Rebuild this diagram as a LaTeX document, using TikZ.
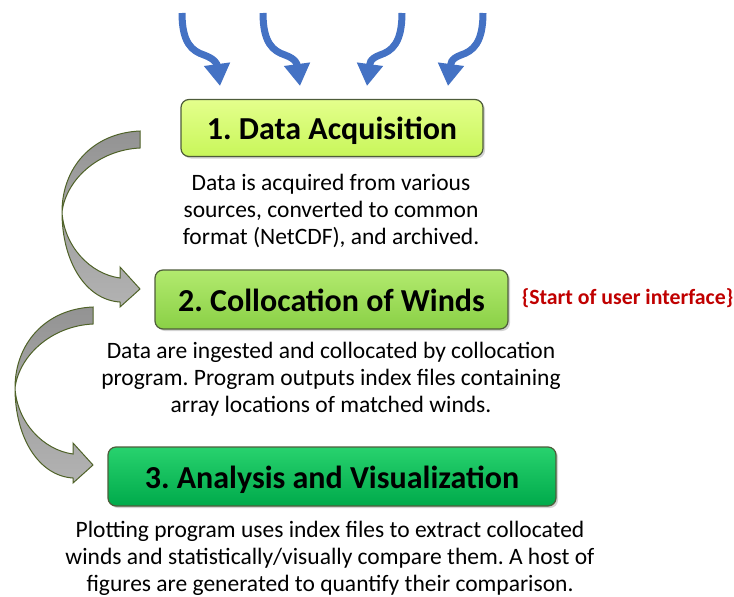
\documentclass[tikz,border=0pt]{standalone}
\usepackage{fontspec}
\setmainfont{Carlito}
\usetikzlibrary{arrows.meta,shadows}
\frenchspacing

\definecolor{boxline}{RGB}{78,92,58}
\definecolor{acqtop}{RGB}{228,255,140}
\definecolor{acqbot}{RGB}{200,246,90}
\definecolor{coltop}{RGB}{178,234,110}
\definecolor{colbot}{RGB}{138,208,70}
\definecolor{anatop}{RGB}{40,210,110}
\definecolor{anabot}{RGB}{0,170,75}
\definecolor{inblue}{RGB}{68,114,196}
\definecolor{uired}{RGB}{192,0,0}
\definecolor{bendline}{RGB}{79,98,40}

\tikzset{
	stagebox/.style={draw=boxline, line width=1.2pt, rounded corners=8pt,
		drop shadow={shadow xshift=2pt, shadow yshift=-2pt, opacity=0.35},
		font=\bfseries\fontsize{32}{38}\selectfont, inner sep=0pt,
		text height=27pt, text depth=4pt},
	notetext/.style={align=center, font=\fontsize{23.5}{27}\selectfont},
	inarrow/.style={draw=inblue, line width=7pt, -{Triangle[width=25pt,length=22pt]}},
	backband/.style={draw=bendline, line width=1pt, top color=gray!85, bottom color=gray!70},
	frontband/.style={draw=bendline, line width=1pt, top color=gray!75, bottom color=gray!60}
}

\begin{document}
\begin{tikzpicture}[x=1pt, y=-1pt]
	\useasboundingbox (0,0) rectangle (734,597);

	% stages
	\node[stagebox, top color=acqtop, bottom color=acqbot, minimum width=302pt, minimum height=57pt] (acq) at (332,128) {1. Data Acquisition};
	\node[stagebox, top color=coltop, bottom color=colbot, minimum width=353pt, minimum height=59pt] (col) at (331.5,299.5) {2. Collocation of Winds};
	\node[stagebox, top color=anatop, bottom color=anabot, minimum width=448pt, minimum height=59pt] (ana) at (332,476.5) {3. Analysis and Visualization};

	\node[text=uired, font=\bfseries\fontsize{21.8}{26}\selectfont] (ui) at (627.5,298) {\{Start of user interface\}};

	% descriptions
	\node[notetext] (acqnote) at (331,211) {Data is acquired from various\\sources, converted to common\\format (NetCDF), and archived.};
	\node[notetext] (colnote) at (331,379) {Data are ingested and collocated by collocation\\program. Program outputs index files containing\\array locations of matched winds.};
	\node[notetext] (ananote) at (330,558) {Plotting program uses index files to extract collocated\\winds and statistically/visually compare them. A host of\\figures are generated to quantify their comparison.};

	% incoming data
	\foreach \sx/\tx/\d [count=\i] in {182/220/1, 263/300/1, 402/367/-1, 483/448/-1} {
		\coordinate (in\i) at (\sx,13);
		\coordinate (tip\i) at (\tx,86);
		\draw[inarrow] (in\i) .. controls +(0,30) and +(-12*\d,-4) .. ++(22*\d,42)
			.. controls +(11*\d,4) and +(-3*\d,-22) .. (tip\i);
	}

	% bent arrows between stages
	\foreach \dx/\dy in {0/0, -47/176} {
		\begin{scope}[shift={(\dx,\dy)}]
			\path[backband] (140,131) .. controls (92,133) and (62,168) .. (62,212)
				.. controls (66,180) and (98,150) .. (140,148) -- cycle;
			\path[frontband] (62,212) .. controls (62,262) and (86,300) .. (120,302)
				-- (120,307) -- (140,289) -- (120,267) -- (120,278)
				.. controls (90,274) and (64,246) .. (62,212) -- cycle;
		\end{scope}
	}
\end{tikzpicture}
\end{document}
